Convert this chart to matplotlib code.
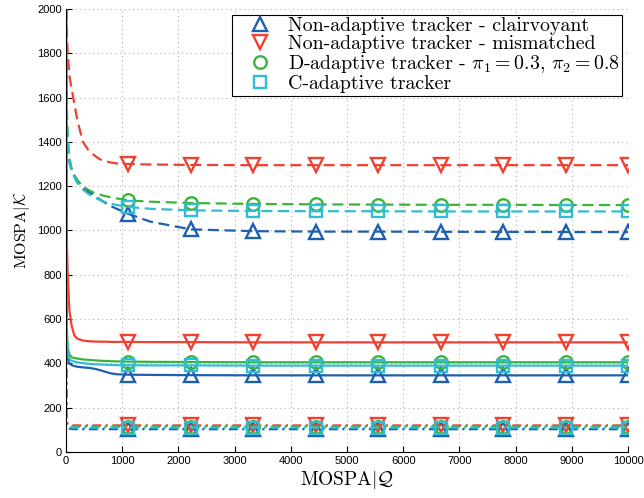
import matplotlib
matplotlib.use("Agg")
import matplotlib.pyplot as plt
from matplotlib.lines import Line2D
import numpy as np

# sample positions along MOSPA|Q, markers drawn at the 1111-step points
x = [0, 5, 15, 30, 60, 100, 150, 200, 300, 400, 500, 600, 700, 800, 900,
     1111, 1500, 2222, 3333, 4444, 5555, 6666, 7777, 8888, 10000]
marker_x = [1111, 2222, 3333, 4444, 5555, 6666, 7777, 8888, 10000]

# dashed group
clair_dash = [2000, 1700, 1450, 1370, 1310, 1270, 1245, 1228, 1195, 1175, 1160, 1140, 1125, 1110, 1098,
              1075, 1040, 1005, 997, 995, 995, 994, 994, 993, 993]
mism_dash = [2000, 1950, 1880, 1800, 1700, 1640, 1570, 1500, 1400, 1362, 1340, 1322, 1313, 1307, 1303,
             1300, 1298, 1296, 1295, 1295, 1295, 1295, 1295, 1295, 1295]
dadapt_dash = [2000, 1800, 1550, 1420, 1330, 1280, 1250, 1225, 1200, 1183, 1170, 1162, 1155, 1150, 1145,
               1136, 1130, 1124, 1120, 1118, 1117, 1116, 1116, 1115, 1115]
cadapt_dash = [2000, 1750, 1500, 1400, 1320, 1270, 1240, 1215, 1185, 1165, 1150, 1138, 1128, 1121, 1115,
               1106, 1098, 1091, 1088, 1087, 1087, 1086, 1086, 1086, 1086]

# solid group
clair_solid = [2000, 700, 480, 420, 400, 392, 388, 385, 382, 380, 376, 370, 362, 355, 351,
               349, 348, 347, 346, 346, 346, 346, 346, 346, 346]
mism_solid = [2000, 1300, 950, 800, 640, 570, 525, 512, 503, 500, 499, 498, 498, 497, 497,
              497, 496, 496, 495, 495, 495, 495, 495, 495, 495]
dadapt_solid = [2000, 800, 560, 470, 440, 428, 424, 422, 418, 416, 414, 412, 411, 410, 409,
                408, 407, 406, 405, 405, 405, 405, 405, 405, 405]
cadapt_solid = [2000, 750, 520, 450, 420, 412, 408, 405, 401, 398, 396, 395, 394, 393, 392,
                392, 391, 391, 390, 390, 390, 390, 390, 390, 390]

# dash-dot group
clair_dd = [2000, 280, 125, 112, 106, 104, 103, 103, 103, 103, 103, 103, 103, 103, 103,
            103, 103, 103, 103, 103, 103, 103, 103, 103, 103]
mism_dd = [2000, 320, 138, 128, 122, 121, 120, 120, 120, 120, 120, 120, 120, 120, 120,
           120, 120, 120, 120, 120, 120, 120, 120, 120, 120]
dadapt_dd = [2000, 300, 132, 122, 117, 116, 115, 115, 115, 115, 115, 115, 115, 115, 115,
             115, 115, 115, 115, 115, 115, 115, 115, 115, 115]
cadapt_dd = [2000, 290, 128, 117, 112, 111, 110, 110, 110, 110, 110, 110, 110, 110, 110,
             110, 110, 110, 110, 110, 110, 110, 110, 110, 110]

labels = ["Non-adaptive tracker - clairvoyant",
          "Non-adaptive tracker - mismatched",
          r"D-adaptive tracker - $\pi_1 = 0.3$, $\pi_2 = 0.8$",
          "C-adaptive tracker"]
colors = ["#1f5fb0", "#f04030", "#3cb43c", "#30bcd4"]
markers = ["^", "v", "o", "s"]
msizes = [10, 10, 9, 8]

plt.rcParams['mathtext.fontset'] = 'cm'

fig = plt.figure(figsize=(6.44, 4.98), dpi=100)
ax = fig.add_axes([0.1025, 0.0924, 0.8727, 0.8895])

mark_idx = [x.index(m) for m in marker_x]
dash = (5, 2.5)
dashdot = (4, 2, 1, 2)

groups = [
    ([clair_dash, mism_dash, dadapt_dash, cadapt_dash], dash),
    ([clair_solid, mism_solid, dadapt_solid, cadapt_solid], None),
    ([clair_dd, mism_dd, dadapt_dd, cadapt_dd], dashdot),
]
for series, pattern in groups:
    for y, c, m, ms in zip(series, colors, markers, msizes):
        line, = ax.plot(x, y, color=c, lw=1.6, marker=m, markersize=ms,
                        markerfacecolor='none', markeredgecolor=c, markeredgewidth=1.7,
                        markevery=mark_idx)
        if pattern is not None:
            line.set_dashes(pattern)

ax.set_xlim(0, 10000)
ax.set_ylim(0, 2000)
ax.set_xticks(np.arange(0, 10001, 1000))
ax.set_yticks(np.arange(0, 2001, 200))
ax.tick_params(direction='in', length=4, labelsize=8, pad=3)
for lab in ax.get_xticklabels() + ax.get_yticklabels():
    lab.set_family('Liberation Sans')
ax.spines['top'].set_visible(False)
ax.spines['right'].set_visible(False)
ax.grid(True, color='#b0b0b0', linestyle=(0, (1, 3)), lw=0.8)
ax.set_axisbelow(True)

ax.set_xlabel(r"MOSPA$|\mathcal{Q}$", family='cmr10', fontsize=14, labelpad=2)
ax.set_ylabel(r"MOSPA$|\mathcal{K}$", family='cmr10', fontsize=11.5, labelpad=4)

handles = [Line2D([], [], ls='none', marker=m, markersize=ms, markerfacecolor='none',
                  markeredgecolor=c, markeredgewidth=1.7)
           for c, m, ms in zip(colors, markers, msizes)]
leg = ax.legend(handles, labels, loc='upper right', prop={'family': 'cmr10', 'size': 14.3},
                frameon=True, fancybox=False, framealpha=1, edgecolor='black',
                borderaxespad=0.3, handletextpad=0.1, labelspacing=0.0, borderpad=0.12,
                handlelength=2.6)
leg.get_frame().set_linewidth(0.8)

fig.savefig("out.png", dpi=100)
